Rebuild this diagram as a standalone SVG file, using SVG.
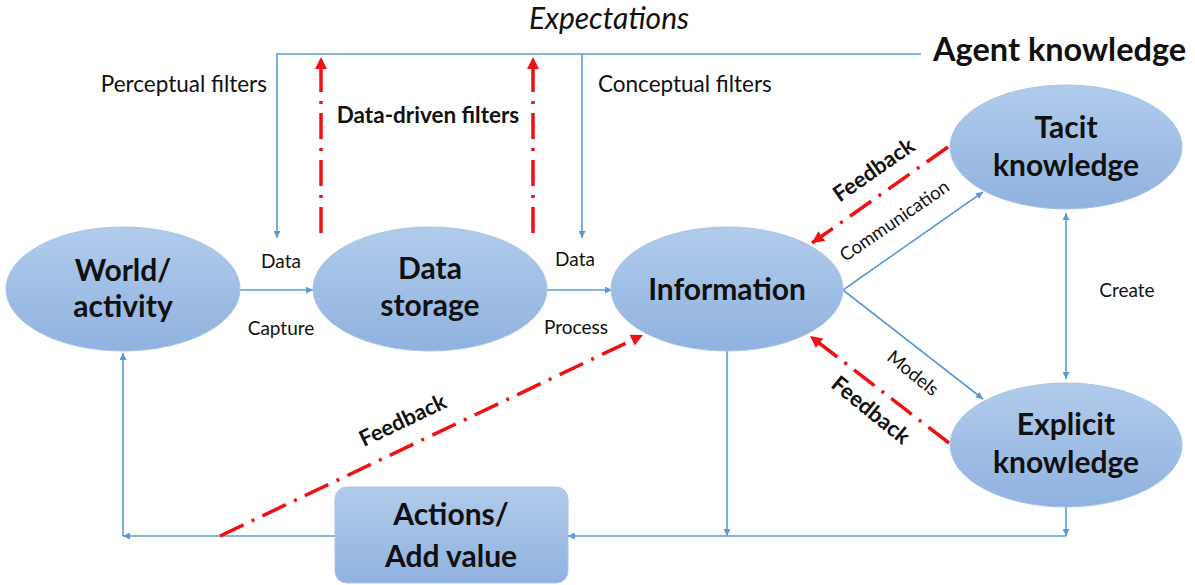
<svg xmlns="http://www.w3.org/2000/svg" width="1195" height="585" viewBox="0 0 1195 585">
<defs>
<linearGradient id="g" x1="0" y1="0" x2="0" y2="1">
<stop offset="0" stop-color="#b1cbeb"/>
<stop offset="1" stop-color="#90b2df"/>
</linearGradient>
<marker id="ab" viewBox="0 0 10 10" refX="10" refY="5" markerWidth="9" markerHeight="7" markerUnits="userSpaceOnUse" orient="auto">
<path d="M0,0 L10,5 L0,10 z" fill="#5b9bd5"/>
</marker>
<marker id="ar" viewBox="0 0 10 10" refX="10" refY="5" markerWidth="15" markerHeight="12" markerUnits="userSpaceOnUse" orient="auto">
<path d="M0,0 L10,5 L0,10 z" fill="#ee1111"/>
</marker>
</defs>
<style>
.n{fill:url(#g);stroke:#a9c4e6;stroke-width:1}
.b{fill:none;stroke:#5b9bd5;stroke-width:1.6}
.r{fill:none;stroke:#ee1111;stroke-width:3.5;stroke-dasharray:26 9 3 9}
.t{font-family:Lato,"Liberation Sans",sans-serif;fill:#111}
.nl{font-family:Lato,"Liberation Sans",sans-serif;font-weight:bold;font-size:30px;fill:#111;text-anchor:middle}
.s{font-size:19px}
.m{font-size:22.5px}
.fb{font-weight:bold;font-size:22px}
</style>
<rect width="1195" height="585" fill="#fff"/>
<g id="connectors">
<path class="b" d="M921,54 H277 V238" marker-end="url(#ab)"/>
<path class="b" d="M582,54 V238" marker-end="url(#ab)"/>
<path class="b" d="M240,290 H313" marker-end="url(#ab)"/>
<path class="b" d="M547,290 H612" marker-end="url(#ab)"/>
<path class="b" d="M843,290 L983,192" marker-end="url(#ab)"/>
<path class="b" d="M843,290 L983,399" marker-end="url(#ab)"/>
<path class="b" d="M1066,296 V213" marker-end="url(#ab)"/>
<path class="b" d="M1066,296 V379" marker-end="url(#ab)"/>
<path class="b" d="M1066,507 V536" marker-end="url(#ab)"/>
<path class="b" d="M1066,536 H568" marker-end="url(#ab)"/>
<path class="b" d="M727,351 V536" marker-end="url(#ab)"/>
<path class="b" d="M335,536 H123" marker-end="url(#ab)"/>
<path class="b" d="M123,536 V353" marker-end="url(#ab)"/>
<path class="r" d="M321,233 V57" marker-end="url(#ar)"/>
<path class="r" d="M533,233 V57" marker-end="url(#ar)"/>
<path class="r" d="M220,536 L643,335" marker-end="url(#ar)"/>
<path class="r" d="M948,147 L812,243" marker-end="url(#ar)"/>
<path class="r" d="M949,443 L810,336" marker-end="url(#ar)"/>
</g>
<g id="labels">
<text class="t" x="609" y="29" font-size="30" font-style="italic" text-anchor="middle">Expectations</text>
<text class="t" x="933" y="61" font-size="32.5" font-weight="bold">Agent knowledge</text>
<text class="t m" x="267" y="92" text-anchor="end">Perceptual filters</text>
<text class="t m" x="598" y="92">Conceptual filters</text>
<text class="t m" x="428" y="123" font-weight="bold" text-anchor="middle">Data-driven filters</text>
<text class="t s" x="281" y="268" text-anchor="middle">Data</text>
<text class="t s" x="281" y="335" text-anchor="middle">Capture</text>
<text class="t s" x="575" y="266" text-anchor="middle">Data</text>
<text class="t s" x="576" y="334" text-anchor="middle">Process</text>
<text class="t s" x="1127" y="297" text-anchor="middle">Create</text>
<text class="t" x="0" y="0" font-size="18.5" text-anchor="middle" transform="translate(898,226) rotate(-34.5)">Communication</text>
<text class="t" x="0" y="0" font-size="18.5" text-anchor="middle" transform="translate(909,378) rotate(39)">Models</text>
<text class="t fb" x="0" y="0" text-anchor="middle" transform="translate(878,176) rotate(-35)">Feedback</text>
<text class="t fb" x="0" y="0" text-anchor="middle" transform="translate(866,416) rotate(39)">Feedback</text>
<text class="t fb" x="0" y="0" text-anchor="middle" transform="translate(406,427) rotate(-25.5)">Feedback</text>
</g>
<g id="world">
<ellipse class="n" cx="123" cy="289" rx="117" ry="62"/>
<text class="nl" x="123" y="281">World/</text>
<text class="nl" x="123" y="317">activity</text>
</g>
<g id="storage">
<ellipse class="n" cx="430" cy="289" rx="117" ry="62"/>
<text class="nl" x="430" y="279">Data</text>
<text class="nl" x="430" y="316">storage</text>
</g>
<g id="information">
<ellipse class="n" cx="727" cy="289" rx="116" ry="62"/>
<text class="nl" x="727" y="300">Information</text>
</g>
<g id="tacit">
<ellipse class="n" cx="1066" cy="147" rx="116" ry="62"/>
<text class="nl" x="1066" y="138">Tacit</text>
<text class="nl" x="1066" y="176">knowledge</text>
</g>
<g id="explicit">
<ellipse class="n" cx="1066" cy="445" rx="116" ry="62"/>
<text class="nl" x="1066" y="435">Explicit</text>
<text class="nl" x="1066" y="473">knowledge</text>
</g>
<g id="actions">
<rect class="n" x="335" y="487" width="233" height="96" rx="12"/>
<text class="nl" x="451" y="525">Actions/</text>
<text class="nl" x="451" y="567">Add value</text>
</g>
</svg>
